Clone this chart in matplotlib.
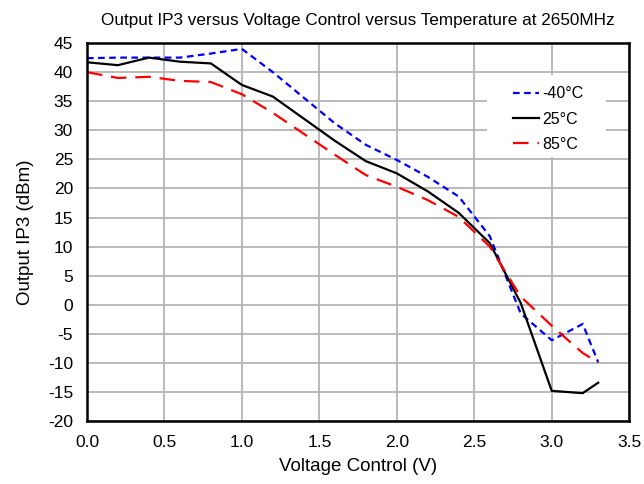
import matplotlib
matplotlib.use("Agg")
import matplotlib.pyplot as plt
from matplotlib.patches import Rectangle

plt.rcParams['font.family'] = ['Liberation Sans', 'DejaVu Sans']
plt.rcParams['axes.unicode_minus'] = False

# voltage control (V)
volts = [0.0, 0.2, 0.4, 0.6, 0.8, 1.0, 1.2, 1.4, 1.6, 1.8, 2.0, 2.2, 2.4, 2.6, 2.8, 3.0, 3.2, 3.3]
# output IP3 (dBm) per temperature
ip3_m40 = [42.4, 42.5, 42.5, 42.5, 43.2, 44.0, 40.0, 35.6, 31.2, 27.5, 24.9, 22.0, 18.6, 11.8, -1.5, -6.1, -3.3, -9.9]
ip3_25 = [41.7, 41.2, 42.5, 41.8, 41.5, 37.8, 35.8, 32.0, 28.2, 24.7, 22.6, 19.5, 15.8, 10.6, 0.3, -14.8, -15.2, -13.4]
ip3_85 = [40.0, 39.0, 39.2, 38.5, 38.3, 36.2, 33.0, 29.4, 25.8, 22.3, 20.3, 18.0, 15.1, 10.0, 1.4, -3.6, -8.3, -9.9]
labels = ['-40°C', '25°C', '85°C']

fig = plt.figure(figsize=(6.44, 4.84), dpi=100)
ax = fig.add_axes([0.135, 0.130, 0.842, 0.781])

ax.plot(volts, ip3_m40, color='#0000ff', lw=1.6, dashes=(3, 2), label=labels[0])
ax.plot(volts, ip3_25, color='black', lw=1.6, label=labels[1])
ax.plot(volts, ip3_85, color='#ff0000', lw=1.6, dashes=(7, 4), label=labels[2])

ax.set_xlim(0, 3.5)
ax.set_ylim(-20, 45)
ax.set_xticks([0, 0.5, 1.0, 1.5, 2.0, 2.5, 3.0, 3.5])
ax.set_xticklabels(['0.0', '0.5', '1.0', '1.5', '2.0', '2.5', '3.0', '3.5'])
ax.set_yticks(range(-20, 46, 5))
ax.tick_params(length=0, labelsize=12.5, pad=10)
ax.grid(True, color='#b4b4b4', lw=1.3)
ax.set_axisbelow(True)
for s in ax.spines.values():
    s.set_linewidth(1.8)

ax.set_xlabel('Voltage Control (V)', fontsize=13.5, labelpad=6)
ax.set_ylabel('Output IP3 (dBm)', fontsize=13.5, labelpad=10)
ax.set_title('Output IP3 versus Voltage Control versus Temperature at 2650MHz', fontsize=12.3, pad=13)

# white legend area covering the grid
ax.add_patch(Rectangle((0.738, 0.698), 0.22, 0.217, transform=ax.transAxes,
                       facecolor='white', edgecolor='none', zorder=1))
ax.legend(loc='center left', bbox_to_anchor=(0.771, 0.799), frameon=False,
          fontsize=11.5, handlelength=1.6, handletextpad=0.26, borderpad=0,
          labelspacing=0.65)

fig.savefig('out.png', dpi=100)
